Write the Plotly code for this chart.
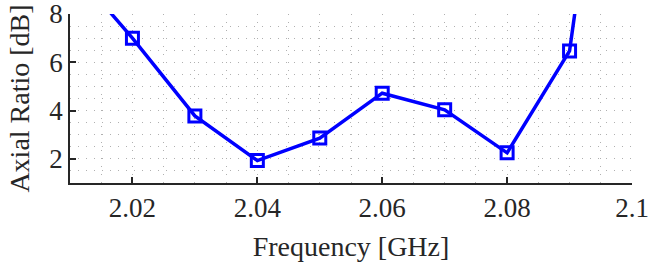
import plotly.graph_objects as go

freq = [2.01, 2.02, 2.03, 2.04, 2.05, 2.06, 2.07, 2.08, 2.09, 2.10]
axial_ratio = [10.0, 7.0, 3.78, 1.93, 2.86, 4.72, 4.03, 2.25, 6.47, 25.0]
x_ticks = [2.02, 2.04, 2.06, 2.08, 2.1]
x_tick_labels = ["2.02", "2.04", "2.06", "2.08", "2.1"]
y_ticks = [2, 4, 6, 8]
y_tick_labels = ["2", "4", "6", "8"]

font_family = "Liberation Serif"
axis_color = "#262626"
grid_color = "#b0b0b0"
dash = "1px,7px"

fig = go.Figure()
fig.add_trace(go.Scatter(
    x=freq, y=axial_ratio, mode="lines+markers",
    line=dict(color="#0000ff", width=3.5),
    marker=dict(symbol="square-open", size=12, color="#0000ff", line=dict(width=3, color="#0000ff")),
    cliponaxis=True, showlegend=False,
))

fig.update_layout(
    width=649, height=266,
    margin=dict(l=70, r=17, t=14, b=83, autoexpand=False),
    paper_bgcolor="white", plot_bgcolor="white",
    font=dict(family=font_family, size=27, color=axis_color),
)
fig.update_xaxes(
    range=[2.01, 2.1], tickvals=x_ticks, ticktext=x_tick_labels,
    showline=True, linecolor=axis_color, linewidth=1.5,
    ticks="inside", ticklen=6, tickcolor=axis_color, tickwidth=1.5,
    showgrid=True, gridcolor=grid_color, griddash=dash, gridwidth=1,
    minor=dict(dtick=0.005, tick0=2.0, showgrid=True, gridcolor=grid_color, griddash=dash, gridwidth=1, ticks=""),
    zeroline=False, mirror=False, automargin=False, ticklabeloverflow="allow",
    tickfont=dict(size=27),
    title=dict(text="Frequency [GHz]", font=dict(size=28), standoff=14),
)
fig.update_yaxes(
    range=[1, 8], tickvals=y_ticks, ticktext=y_tick_labels,
    showline=True, linecolor=axis_color, linewidth=1.5,
    ticks="inside", ticklen=6, tickcolor=axis_color, tickwidth=1.5,
    showgrid=True, gridcolor=grid_color, griddash=dash, gridwidth=1,
    minor=dict(dtick=0.5, tick0=0, showgrid=True, gridcolor=grid_color, griddash=dash, gridwidth=1, ticks=""),
    zeroline=False, mirror=False, automargin=False, ticklabeloverflow="allow",
    tickfont=dict(size=27),
    title=dict(text="Axial Ratio [dB]", font=dict(size=28), standoff=12),
)

fig.write_html("out.html", config={"displayModeBar": False},
               post_script="document.body.style.margin='0';")
